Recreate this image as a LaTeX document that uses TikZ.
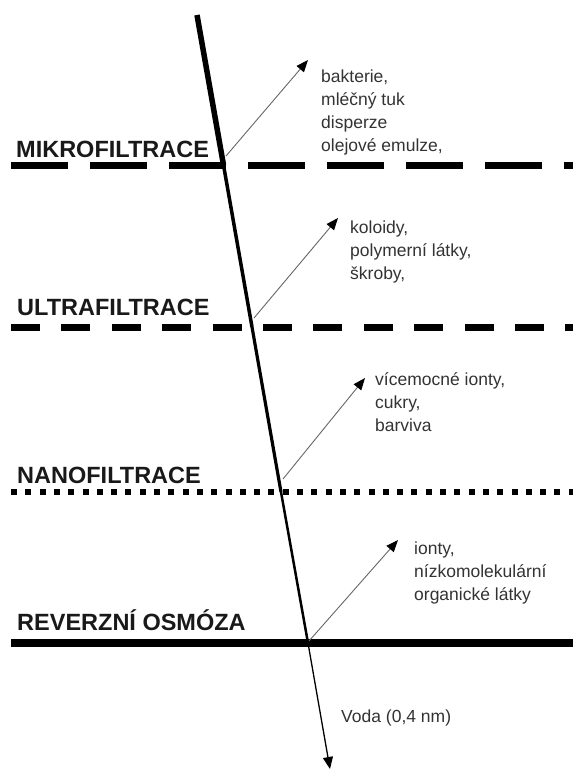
\documentclass[tikz,border=0pt]{standalone}
\usepackage{fontspec}
\setmainfont{Liberation Sans}
\usetikzlibrary{arrows.meta, positioning}
\tikzset{
  membrane/.style={line width=#1, line cap=butt},
  filterlabel/.style={font=\fontsize{23.5}{28}\selectfont\bfseries, text=black!90, anchor=base west, inner sep=0pt},
  particles/.style={font=\fontsize{17.5}{23}\selectfont, text=black!80, anchor=base west, inner sep=0pt, align=left},
  retained/.style={draw=black!60, line width=0.9pt, -{Triangle[length=12pt, width=9.5pt, color=black]}},
}

\begin{document}
\begin{tikzpicture}[x=1pt, y=-1pt]
  \useasboundingbox (0,0) rectangle (573,771);
  % points on the flow line
  \coordinate (top) at (197,15);
  \coordinate (mf) at (223.5,165);
  \coordinate (uf) at (252,327);
  \coordinate (nf) at (281,492);
  \coordinate (ro) at (308,643);
  \coordinate (out) at (330,769);
  % membranes
  \coordinate (mfl) at (11,165);  \coordinate (mfr) at (573,165);
  \coordinate (ufl) at (11,327);  \coordinate (ufr) at (573,327);
  \coordinate (nfl) at (11,492);  \coordinate (nfr) at (573,492);
  \coordinate (rol) at (11,643);  \coordinate (ror) at (573,643);
  \draw[membrane=7pt, dash pattern=on 57pt off 22pt] (mfl) -- (mfr);
  \draw[membrane=7pt, dash pattern=on 29pt off 21.4pt] (ufl) -- (ufr);
  \draw[membrane=6.5pt, dash pattern=on 6pt off 8.3pt] (nfl) -- (nfr);
  \draw[membrane=8pt] (rol) -- (ror);
  % flow line through the membranes
  \draw[line width=5.5pt] (top) -- (mf);
  \draw[line width=3.5pt] (mf) -- (uf);
  \draw[line width=3.2pt] (uf) -- (nf);
  \draw[line width=2.5pt] (nf) -- (ro);
  \draw[line width=1.3pt, -{Triangle[length=12pt, width=10pt]}] (ro) -- (out);
  % names of the processes
  \node[filterlabel] (mflabel) at (16,157) {MIKROFILTRACE};
  \node[filterlabel] (uflabel) at (17,315) {ULTRAFILTRACE};
  \node[filterlabel] (nflabel) at (17,483) {NANOFILTRACE};
  \node[filterlabel] (rolabel) at (17,630) {REVERZNÍ OSMÓZA};
  % retained particles (base = last line)
  \coordinate (mfo) at (226,156);  \coordinate (mftip) at (308,60);
  \coordinate (ufo) at (254,318);  \coordinate (uftip) at (338,218);
  \coordinate (nfo) at (283,479);  \coordinate (nftip) at (365,378);
  \coordinate (roo) at (309,641);  \coordinate (rotip) at (398,540);
  \draw[retained] (mfo) -- (mftip);
  \draw[retained] (ufo) -- (uftip);
  \draw[retained] (nfo) -- (nftip);
  \draw[retained] (roo) -- (rotip);
  \node[particles] (mfsub) at (321,151) {bakterie,\\mléčný tuk\\disperze\\olejové emulze,};
  \node[particles] (ufsub) at (350,279) {koloidy,\\polymerní látky,\\škroby,};
  \node[particles] (nfsub) at (375,431) {vícemocné ionty,\\cukry,\\barviva};
  \node[particles] (rosub) at (414,600) {ionty,\\nízkomolekulární\\organické látky};
  \node[particles] (water) at (341,722) {Voda (0,4 nm)};
\end{tikzpicture}
\end{document}
